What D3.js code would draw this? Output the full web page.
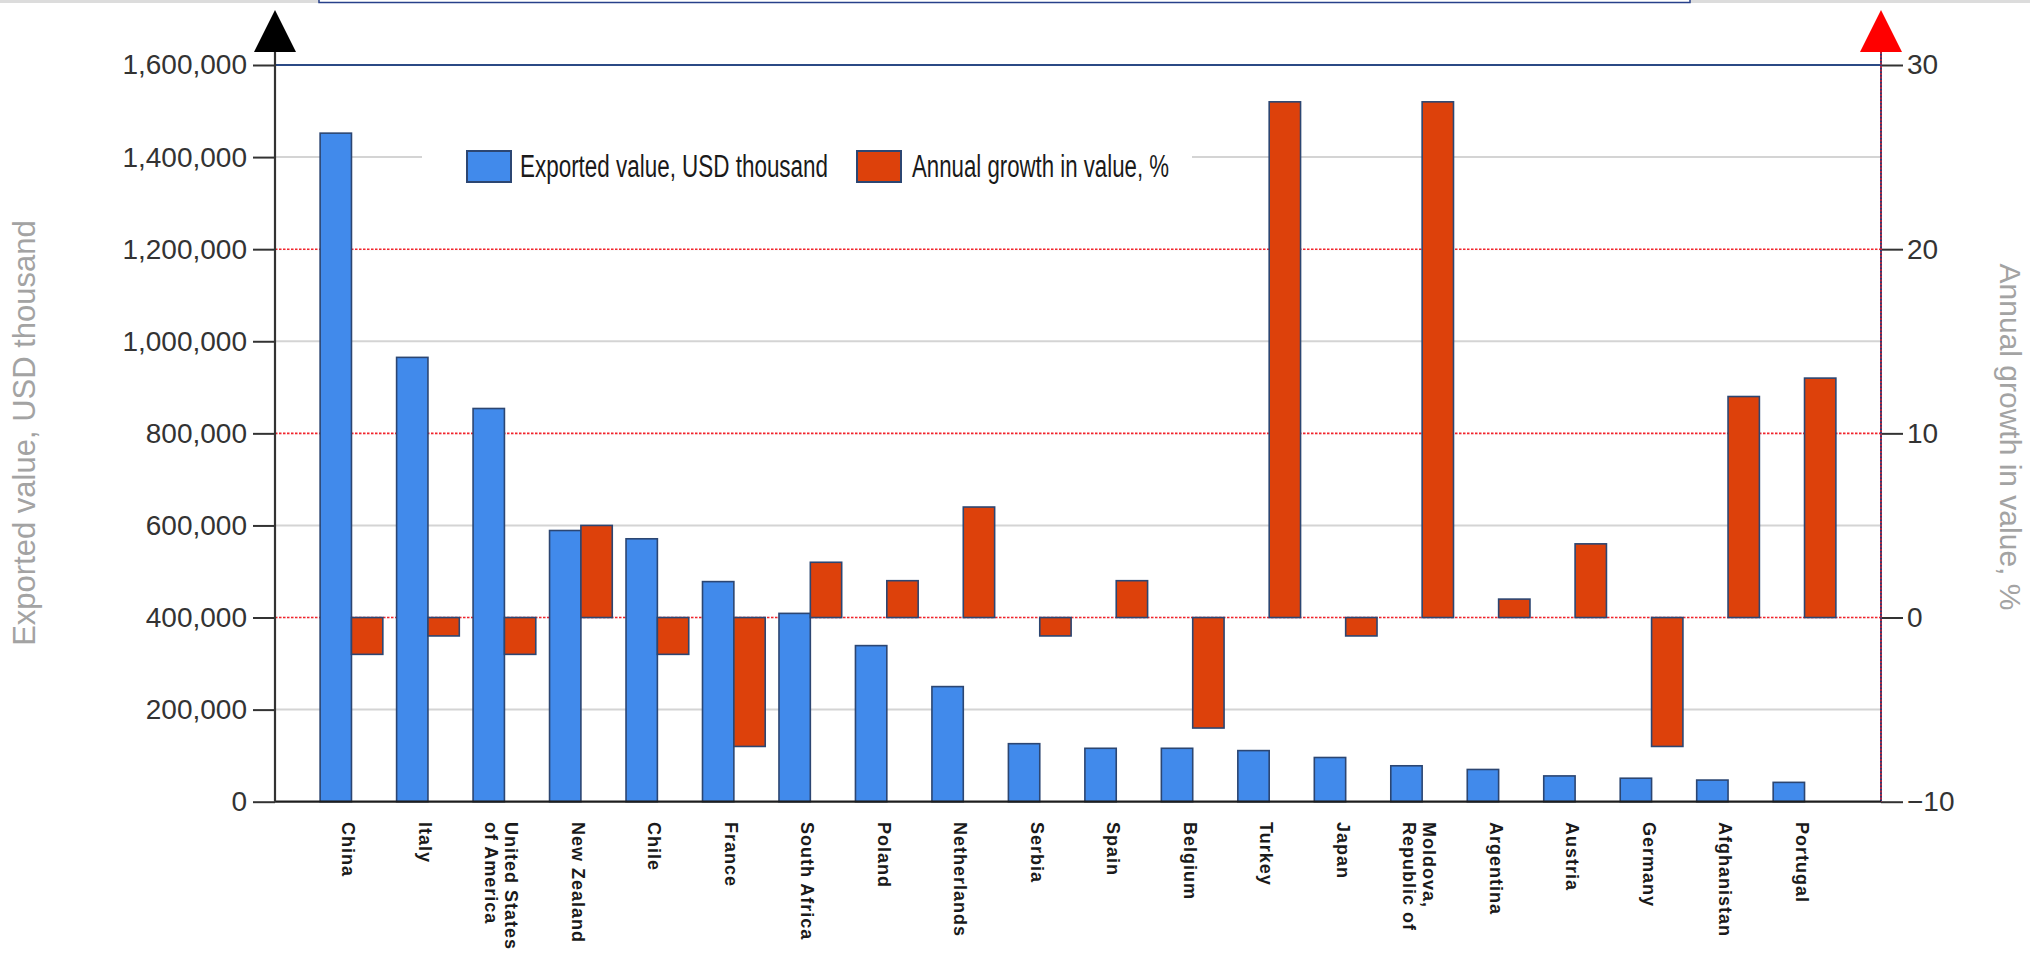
<!DOCTYPE html>
<html>
<head>
<meta charset="utf-8">
<script src="https://cdn.jsdelivr.net/npm/d3@7"></script>
<style>
  html, body { margin: 0; padding: 0; background: #ffffff; }
  svg { display: block; }
</style>
</head>
<body>
<svg id="chart" width="2030" height="953"></svg>
<script>
// Export destinations, in order of exported value
const categories = [
  "China", "Italy", "United States\nof America", "New Zealand", "Chile",
  "France", "South Africa", "Poland", "Netherlands", "Serbia",
  "Spain", "Belgium", "Turkey", "Japan", "Moldova,\nRepublic of",
  "Argentina", "Austria", "Germany", "Afghanistan", "Portugal"
];
// Exported value, USD thousand
const exportedValue = [
  1452000, 965000, 854000, 589000, 571000,
  478000, 409000, 339000, 250000, 126000,
  116000, 116000, 111000, 96000, 78000,
  70000, 56000, 51000, 47000, 42000
];
// Annual growth in value, %
const annualGrowth = [
  -2, -1, -2, 5, -2,
  -7, 3, 2, 6, -1,
  2, -6, 28, -1, 28,
  1, 4, -7, 12, 13
];
const leftTicks = [0, 200000, 400000, 600000, 800000, 1000000, 1200000, 1400000, 1600000];
const rightTicks = [-10, 0, 10, 20, 30];
const seriesNames = ["Exported value, USD thousand", "Annual growth in value, %"];
const leftTitle = "Exported value, USD thousand";
const rightTitle = "Annual growth in value, %";

const colors = { value: "#418aeb", growth: "#dd410b", outline: "#2c4672" };

const svg = d3.select("#chart");
const plot = { left: 275, right: 1881, top: 65, bottom: 801.7 };

// Category slots: one empty slot on each side
const x = d3.scaleLinear().domain([0, categories.length + 1]).range([plot.left, plot.right]);
const step = x(1) - x(0);
const barW = step * 0.41;
const yL = d3.scaleLinear().domain([0, 1600000]).range([plot.bottom, plot.top]);
const yR = d3.scaleLinear().domain([-10, 30]).range([plot.bottom, plot.top]);

// Strip along the top edge
svg.append("rect").attr("x", 0).attr("y", 0).attr("width", 2030).attr("height", 3).attr("fill", "#dcdcdc");
svg.append("rect").attr("x", 319).attr("y", -4).attr("width", 1371).attr("height", 6.5)
  .attr("fill", "#ffffff").attr("stroke", "#27408a").attr("stroke-width", 1.5);

// Gridlines of the left axis
svg.append("g").selectAll("line")
  .data(leftTicks.filter(d => d > 0 && d < 1600000))
  .join("line")
  .attr("x1", plot.left).attr("x2", plot.right)
  .attr("y1", d => yL(d)).attr("y2", d => yL(d))
  .attr("stroke", "#d4d4d4").attr("stroke-width", 2);

// Gridlines of the right axis (dotted red)
const rGrid = rightTicks.filter(d => d > -10 && d < 30);
svg.append("g").selectAll("line")
  .data(rGrid)
  .join("line")
  .attr("x1", plot.left).attr("x2", plot.right)
  .attr("y1", d => yR(d)).attr("y2", d => yR(d))
  .attr("stroke", "#ffffff").attr("stroke-width", 2.5);
svg.append("g").selectAll("line")
  .data(rGrid)
  .join("line")
  .attr("x1", plot.left).attr("x2", plot.right)
  .attr("y1", d => yR(d)).attr("y2", d => yR(d))
  .attr("stroke", "#f2242c").attr("stroke-width", 1.6)
  .attr("stroke-dasharray", "2.5,1.5");

// Top border of the plot area
svg.append("line")
  .attr("x1", plot.left).attr("x2", plot.right)
  .attr("y1", yL(1600000)).attr("y2", yL(1600000))
  .attr("stroke", "#2b4a85").attr("stroke-width", 2);

// Legend
const legend = svg.append("g");
legend.append("rect").attr("x", 422).attr("y", 140).attr("width", 770).attr("height", 55).attr("fill", "#ffffff");
const legendItems = [
  { name: seriesNames[0], fill: colors.value, sx: 467, tx: 520, tw: 308 },
  { name: seriesNames[1], fill: colors.growth, sx: 857, tx: 912, tw: 257 }
];
legendItems.forEach(it => {
  legend.append("rect").attr("x", it.sx).attr("y", 151).attr("width", 44).attr("height", 31)
    .attr("fill", it.fill).attr("stroke", colors.outline).attr("stroke-width", 2);
  legend.append("text").attr("x", it.tx).attr("y", 177)
    .attr("font-family", "Liberation Sans, Arial, sans-serif").attr("font-size", 31)
    .attr("fill", "#1a1a1a")
    .attr("textLength", it.tw).attr("lengthAdjust", "spacingAndGlyphs")
    .text(it.name);
});

// Bars
const bars = svg.append("g");
bars.selectAll("rect.value")
  .data(exportedValue)
  .join("rect").attr("class", "value")
  .attr("x", (d, i) => x(i + 1) - barW)
  .attr("width", barW)
  .attr("y", d => yL(d))
  .attr("height", d => yL(0) - yL(d))
  .attr("fill", colors.value).attr("stroke", colors.outline).attr("stroke-width", 1.6);
bars.selectAll("rect.growth")
  .data(annualGrowth)
  .join("rect").attr("class", "growth")
  .attr("x", (d, i) => x(i + 1))
  .attr("width", barW)
  .attr("y", d => Math.min(yR(d), yR(0)))
  .attr("height", d => Math.abs(yR(d) - yR(0)))
  .attr("fill", colors.growth).attr("stroke", colors.outline).attr("stroke-width", 1.6);

// Left axis
const axisL = svg.append("g").attr("transform", `translate(${plot.left},0)`)
  .call(d3.axisLeft(yL).tickValues(leftTicks).tickSize(22).tickPadding(6).tickFormat(d3.format(",")));
axisL.select(".domain").remove();
axisL.selectAll(".tick line").attr("stroke", "#333333").attr("stroke-width", 2);
axisL.selectAll(".tick text").attr("font-family", "Liberation Sans, Arial, sans-serif")
  .attr("font-size", 28).attr("fill", "#333333");

// Right axis
const axisR = svg.append("g").attr("transform", `translate(${plot.right},0)`)
  .call(d3.axisRight(yR).tickValues(rightTicks).tickSize(22).tickPadding(4));
axisR.select(".domain").remove();
axisR.selectAll(".tick line").attr("stroke", "#333333").attr("stroke-width", 2);
axisR.selectAll(".tick text").attr("font-family", "Liberation Sans, Arial, sans-serif")
  .attr("font-size", 28).attr("fill", "#333333");

// Axis lines
svg.append("line").attr("x1", plot.right).attr("x2", plot.right)
  .attr("y1", 52).attr("y2", plot.bottom)
  .attr("stroke", "#2b3f7a").attr("stroke-width", 2);
svg.append("line").attr("x1", plot.right).attr("x2", plot.right)
  .attr("y1", 52).attr("y2", plot.bottom)
  .attr("stroke", "#e8202a").attr("stroke-width", 1.4).attr("stroke-dasharray", "2,1.5");
svg.append("line").attr("x1", plot.left).attr("x2", plot.right)
  .attr("y1", plot.bottom).attr("y2", plot.bottom)
  .attr("stroke", "#1e1e1e").attr("stroke-width", 2.2);
svg.append("line").attr("x1", plot.left).attr("x2", plot.left)
  .attr("y1", 50).attr("y2", plot.bottom)
  .attr("stroke", "#333333").attr("stroke-width", 2.2);

// Arrow heads at the top of both value axes
const arrow = (cx, fill) => svg.append("path")
  .attr("d", `M${cx - 21},52 L${cx + 21},52 L${cx},10 Z`).attr("fill", fill);
arrow(plot.left, "#000000");
arrow(plot.right, "#ff0000");

// Category labels, rotated to read downwards
const labels = svg.append("g");
categories.forEach((c, i) => {
  const lines = c.split("\n");
  const cx = x(i + 1) - 3;
  const lineGap = 20;
  lines.forEach((ln, j) => {
    const off = ((lines.length - 1) / 2 - j) * lineGap;
    labels.append("text")
      .attr("transform", `translate(${cx + off},822) rotate(90)`)
      .attr("dominant-baseline", "central")
      .attr("font-family", "Liberation Sans, Arial, sans-serif")
      .attr("font-size", 18).attr("font-weight", "bold")
      .attr("letter-spacing", 1)
      .attr("fill", "#1a1a1a")
      .text(ln);
  });
});

// Axis titles
svg.append("text")
  .attr("transform", `translate(35,433) rotate(-90)`)
  .attr("text-anchor", "middle")
  .attr("font-family", "Liberation Sans, Arial, sans-serif").attr("font-size", 31)
  .attr("fill", "#a3a3a3")
  .text(leftTitle);
svg.append("text")
  .attr("transform", `translate(2000,437) rotate(90)`)
  .attr("text-anchor", "middle")
  .attr("font-family", "Liberation Sans, Arial, sans-serif").attr("font-size", 30)
  .attr("fill", "#a3a3a3")
  .text(rightTitle);
</script>
</body>
</html>
